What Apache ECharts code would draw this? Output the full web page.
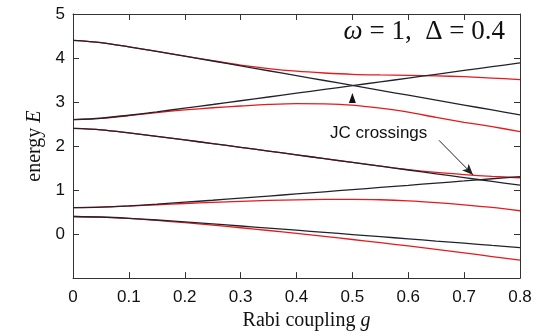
<!DOCTYPE html>
<html>
<head>
<meta charset="utf-8">
<title>energy E vs Rabi coupling g</title>
<script src="https://cdn.jsdelivr.net/npm/echarts@6/dist/echarts.min.js"></script>
<style>
  html, body { margin: 0; padding: 0; background: #fff; }
  #main { width: 553px; height: 336px; }
</style>
</head>
<body>
<div id="main"></div>
<script type="text/javascript">
// coupling g (x axis)
var gVals = [0, 0.05, 0.1, 0.15, 0.2, 0.25, 0.3, 0.35, 0.4, 0.45, 0.5, 0.55, 0.6, 0.65, 0.7, 0.75, 0.8];

// JC levels (black)
var jc1 = [0.4, 0.388, 0.359, 0.320, 0.276, 0.231, 0.184, 0.136, 0.088, 0.039, -0.010, -0.059, -0.108, -0.158, -0.207, -0.257, -0.306];
var jc2 = [0.6, 0.612, 0.641, 0.680, 0.724, 0.769, 0.816, 0.864, 0.912, 0.961, 1.010, 1.059, 1.108, 1.158, 1.207, 1.257, 1.306];
var jc3 = [2.4, 2.368, 2.3, 2.222, 2.139, 2.056, 1.971, 1.886, 1.8, 1.714, 1.628, 1.542, 1.456, 1.370, 1.283, 1.197, 1.111];
var jc4 = [2.6, 2.632, 2.7, 2.778, 2.861, 2.944, 3.029, 3.114, 3.2, 3.286, 3.372, 3.458, 3.544, 3.630, 3.717, 3.803, 3.889];
var jc5 = [4.4, 4.35, 4.255, 4.15, 4.042, 3.932, 3.822, 3.711, 3.6, 3.489, 3.378, 3.266, 3.155, 3.043, 2.932, 2.82, 2.708];

// Rabi levels (red)
var rb1 = [0.4, 0.387, 0.355, 0.310, 0.258, 0.203, 0.144, 0.081, 0.016, -0.052, -0.123, -0.195, -0.270, -0.348, -0.428, -0.510, -0.594];
var rb2 = [0.6, 0.611, 0.636, 0.666, 0.695, 0.722, 0.745, 0.764, 0.778, 0.787, 0.79, 0.78, 0.755, 0.715, 0.665, 0.605, 0.53];
var rb3 = [2.4, 2.368, 2.3, 2.222, 2.139, 2.056, 1.971, 1.886, 1.8, 1.714, 1.63, 1.546, 1.465, 1.4, 1.35, 1.31, 1.28];
var rb4 = [2.6, 2.63, 2.69, 2.76, 2.82, 2.87, 2.91, 2.945, 2.965, 2.96, 2.93, 2.86, 2.77, 2.65, 2.54, 2.44, 2.33];
var rb5 = [4.4, 4.35, 4.255, 4.15, 4.045, 3.94, 3.84, 3.76, 3.70, 3.66, 3.63, 3.615, 3.605, 3.595, 3.575, 3.545, 3.51];

// annotations, in data coordinates
var avoidedMark = [0.5, 3.09];
var jcLabelAt = [0.547, 2.29];
var jcArrowFrom = [0.655, 2.13];
var jcArrowTo = [0.716, 1.345];

var BLACK = '#22222e';
var RED = '#e8191c';
var SANS = '"Liberation Sans", Arial, sans-serif';
var SERIF = '"Liberation Serif", "DejaVu Serif", serif';

function pairs(ys) {
    return gVals.map(function (g, i) { return [g, ys[i]]; });
}

function curve(ys, color) {
    return {
        type: 'line',
        data: pairs(ys),
        smooth: 0.3,
        showSymbol: false,
        silent: true,
        lineStyle: { color: color, width: 1.3 },
        z: color === RED ? 2 : 3
    };
}

var myChart = echarts.init(document.getElementById('main'), null, { renderer: 'canvas' });

var frameLine = { show: true, onZero: false, lineStyle: { color: '#333', width: 1 } };
var tickIn = { show: true, inside: true, length: 6, lineStyle: { color: '#333' } };

var option = {
    animation: false,
    backgroundColor: '#fff',
    grid: { left: 73, right: 33, top: 14, bottom: 55 },
    xAxis: [
        {
            type: 'value', min: 0, max: 0.8, interval: 0.1,
            position: 'bottom',
            axisLine: frameLine, axisTick: tickIn, splitLine: { show: false },
            axisLabel: {
                color: '#111', fontFamily: SANS, fontSize: 17, margin: 11,
                formatter: function (v) { return v === 0 ? '0' : v.toFixed(1); }
            },
            name: 'Rabi coupling {i|g}',
            nameLocation: 'middle', nameGap: 31,
            nameTextStyle: {
                fontFamily: SERIF, fontSize: 20, color: '#111', padding: [0, 0, 0, 20],
                rich: { i: { fontFamily: SERIF, fontStyle: 'italic', fontSize: 20, color: '#111' } }
            }
        },
        {
            type: 'value', min: 0, max: 0.8, interval: 0.1,
            position: 'top',
            axisLine: frameLine, axisTick: tickIn, splitLine: { show: false },
            axisLabel: { show: false }
        }
    ],
    yAxis: [
        {
            type: 'value', min: -1, max: 5, interval: 1,
            position: 'left',
            axisLine: frameLine, axisTick: tickIn, splitLine: { show: false },
            axisLabel: {
                color: '#111', fontFamily: SANS, fontSize: 17, margin: 8,
                formatter: function (v) { return v < 0 ? '' : String(v); }
            },
            name: 'energy {i|E}',
            nameLocation: 'middle', nameGap: 28,
            nameTextStyle: {
                fontFamily: SERIF, fontSize: 20, color: '#111',
                rich: { i: { fontFamily: SERIF, fontStyle: 'italic', fontSize: 20, color: '#111' } }
            }
        },
        {
            type: 'value', min: -1, max: 5, interval: 1,
            position: 'right',
            axisLine: frameLine, axisTick: tickIn, splitLine: { show: false },
            axisLabel: { show: false }
        }
    ],
    series: [
        curve(rb1, RED), curve(rb2, RED), curve(rb3, RED), curve(rb4, RED), curve(rb5, RED),
        curve(jc1, BLACK), curve(jc2, BLACK), curve(jc3, BLACK), curve(jc4, BLACK), curve(jc5, BLACK),
        {
            // annotations only
            type: 'line',
            data: [],
            silent: true,
            markPoint: {
                silent: true,
                data: [
                    {
                        coord: avoidedMark, symbol: 'triangle', symbolSize: [7, 10],
                        itemStyle: { color: '#111' }, label: { show: false }
                    },
                    {
                        coord: jcLabelAt, symbol: 'circle', symbolSize: 0,
                        label: {
                            show: true, position: 'inside', formatter: 'JC crossings',
                            fontFamily: SANS, fontSize: 17, color: '#111'
                        }
                    }
                ]
            },
            markLine: {
                silent: true,
                symbol: ['none', 'arrow'],
                symbolSize: [7, 11],
                label: { show: false },
                lineStyle: { color: '#222', width: 1, type: 'solid' },
                data: [[{ coord: jcArrowFrom }, { coord: jcArrowTo }]]
            }
        }
    ],
    graphic: [
        {
            type: 'text',
            right: 48, top: 18,
            style: {
                text: '{i|ω} = 1,  Δ = 0.4',
                fontFamily: SERIF, fontSize: 27, fill: '#111',
                rich: { i: { fontFamily: SERIF, fontStyle: 'italic', fontSize: 27, fill: '#111' } }
            }
        }
    ]
};

myChart.setOption(option);
window.addEventListener('resize', function () {
    myChart.resize();
});
</script>
</body>
</html>
